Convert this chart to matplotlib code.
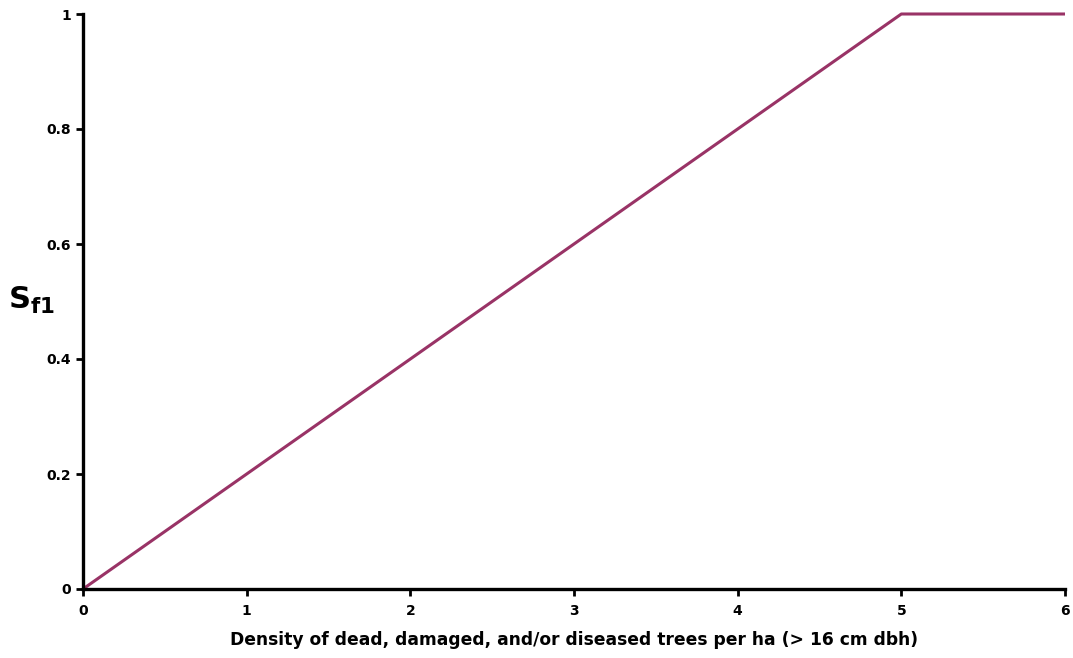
import matplotlib
matplotlib.use("Agg")
import matplotlib.pyplot as plt

x_vals = [0, 5, 6]
y_vals = [0, 1, 1]
x_ticks = [0, 1, 2, 3, 4, 5, 6]
y_ticks = [0, 0.2, 0.4, 0.6, 0.8, 1]
y_tick_labels = ["0", "0.2", "0.4", "0.6", "0.8", "1"]

plt.rcParams['font.family'] = ['DejaVu Sans']
plt.rcParams['mathtext.fontset'] = 'dejavusans'

fig = plt.figure(figsize=(10.73, 6.58), dpi=100)
ax = fig.add_axes([83/1073, 69/658, (1065-83)/1073, (589-14)/658])
ax.plot(x_vals, y_vals, color='#993366', lw=2.2, solid_capstyle='butt', clip_on=False)
ax.set_xlim(0, 6)
ax.set_ylim(0, 1)
ax.set_xticks(x_ticks)
ax.set_yticks(y_ticks)
ax.set_yticklabels(y_tick_labels)
for s in ['top', 'right']:
    ax.spines[s].set_visible(False)
for s in ['left', 'bottom']:
    ax.spines[s].set_linewidth(2.4)
ax.tick_params(axis='both', direction='out', length=5, width=2, labelsize=10)
for lab in ax.get_xticklabels() + ax.get_yticklabels():
    lab.set_fontweight('bold')
ax.tick_params(axis='x', pad=6)
ax.set_xlabel("Density of dead, damaged, and/or diseased trees per ha (> 16 cm dbh)",
              fontsize=12.3, fontweight='bold', labelpad=9)
fig.text(8/1073, 1 - 300/658, r'$\mathbf{S_{f1}}$', fontsize=22, va='center', ha='left')
fig.savefig("out.png", dpi=100)
